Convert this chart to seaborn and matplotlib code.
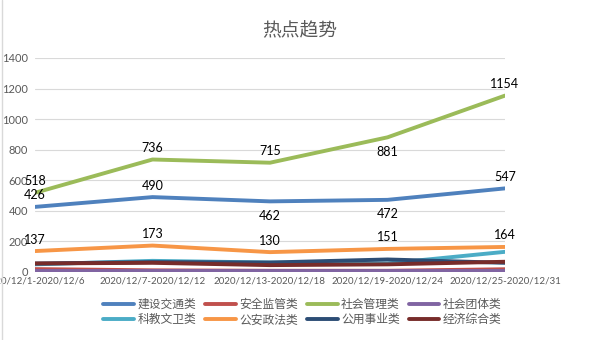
import matplotlib
matplotlib.use("Agg")
import matplotlib.pyplot as plt
import seaborn as sns
import pandas as pd
from matplotlib.lines import Line2D

sns.set_style("white")
plt.rcParams['font.family'] = ['Lato', 'Noto Sans CJK SC', 'DejaVu Sans']

periods = ["2020/12/1-2020/12/6", "2020/12/7-2020/12/12", "2020/12/13-2020/12/18",
           "2020/12/19-2020/12/24", "2020/12/25-2020/12/31"]
jianshe = [426, 490, 462, 472, 547]
anquan = [19, 11, 8, 8, 18]
shehui_guanli = [518, 736, 715, 881, 1154]
shehui_tuanti = [4, 4, 4, 4, 4]
kejiao = [50, 73, 62, 56, 132]
gongan = [137, 173, 130, 151, 164]
gongyong = [55, 65, 62, 82, 60]
jingji = [56, 60, 45, 50, 67]

series_names = ["建设交通类", "安全监管类", "社会管理类", "社会团体类",
                "科教文卫类", "公安政法类", "公用事业类", "经济综合类"]
series_vals = [jianshe, anquan, shehui_guanli, shehui_tuanti, kejiao, gongan, gongyong, jingji]
colors = ["#4F81BD", "#C0504D", "#9BBB59", "#8064A2",
          "#4BACC6", "#F79646", "#2C4D75", "#772C2A"]

rows = []
for name, vals in zip(series_names, series_vals):
    for i, v in enumerate(vals):
        rows.append({"series": name, "x": i, "value": v})
df = pd.DataFrame(rows)

fig = plt.figure(figsize=(6.05, 3.4), dpi=100)
ax = fig.add_axes([35/605, 1-272/340, 470/605, (272-58)/340])

sns.lineplot(data=df, x="x", y="value", hue="series", hue_order=series_names,
             palette=colors, linewidth=2.8, ax=ax, legend=False, sort=False)

ax.set_xlim(0, 4)
ax.set_ylim(0, 1400)
ax.set_yticks(range(0, 1401, 200))
ax.set_xticks(range(5))
ax.set_xticklabels(periods)
ax.grid(axis='y', color='#D9D9D9', linewidth=0.8)
ax.set_axisbelow(True)
for s in ax.spines.values():
    s.set_visible(False)
ax.tick_params(axis='y', length=0, labelsize=8, labelcolor='#595959', pad=5)
ax.tick_params(axis='x', length=0, labelsize=7, labelcolor='#595959', pad=3)
ax.set_xlabel("")
ax.set_ylabel("")

# data labels
label_series = {"建设交通类": jianshe, "社会管理类": shehui_guanli, "公安政法类": gongan}
below = {("建设交通类", 2), ("建设交通类", 3), ("社会管理类", 3)}
for name, vals in label_series.items():
    for i, v in enumerate(vals):
        if (name, i) in below:
            ax.annotate(str(v), (i, v), xytext=(0, -6), textcoords='offset points',
                        ha='center', va='top', fontsize=9, color='black')
        else:
            ax.annotate(str(v), (i, v), xytext=(0, 4), textcoords='offset points',
                        ha='center', va='bottom', fontsize=9, color='black')

fig.text(300/605, 1-30/340, "热点趋势", ha='center', va='center', fontsize=13.5, color='#595959')

handles = [Line2D([0], [0], color=c, linewidth=2.8) for c in colors]
order = [0, 4, 1, 5, 2, 6, 3, 7]
fig.legend([handles[k] for k in order], [series_names[k] for k in order],
           loc='center', bbox_to_anchor=(0.5, 1-312/340), ncol=4,
           frameon=False, fontsize=8.5, labelcolor='#595959', handlelength=2.6,
           columnspacing=0.75, handletextpad=0.3, labelspacing=0.35)

fig.add_artist(Line2D([2/605, 2/605], [0, 1], transform=fig.transFigure, color='#D9D9D9', linewidth=1))

fig.savefig("out.png", dpi=100)
